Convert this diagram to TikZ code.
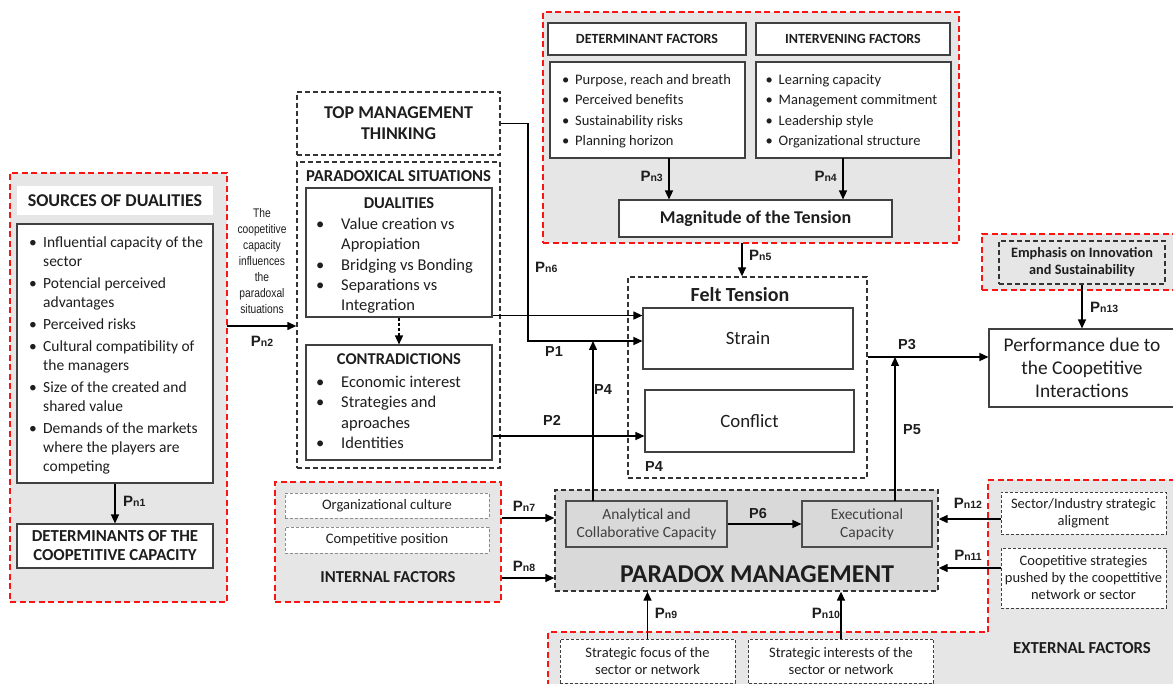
\documentclass[tikz,border=0pt]{standalone}
\usepackage{fontspec}
\setmainfont{Carlito}
\newfontfamily\arialfont{Liberation Sans}
\newfontfamily\narrowfont[FakeStretch=0.82]{Liberation Sans}
\usetikzlibrary{arrows.meta, positioning}

\definecolor{redline}{RGB}{250,20,20}
\definecolor{panelgray}{RGB}{230,230,230}
\definecolor{pmgray}{RGB}{217,217,217}
\definecolor{txt}{RGB}{30,30,30}

\newcommand{\fs}[2]{\fontsize{#1}{#2}\selectfont}
\newcommand{\pn}[1]{{\arialfont\bfseries\fs{15}{15}P\fs{10.5}{15}n#1}}
\newcommand{\pl}[1]{{\arialfont\bfseries\fs{14.5}{15}P#1}}
\newcommand{\blist}[2]{\begin{tabular}{@{}p{#1}@{}l@{}}#2\end{tabular}}

\begin{document}
\begin{tikzpicture}[x=1pt, y=-1pt,
	every node/.style={text=txt},
	sized/.style 2 args={minimum width=#1pt, minimum height=#2pt, inner sep=0pt},
	redpanel/.style={draw=redline, fill=panelgray, line width=1.8pt, dash pattern=on 6pt off 3.5pt},
	solidbox/.style={draw=black!75, fill=white, line width=1.1pt},
	dashbox/.style={draw=black!80, line width=1.3pt, dash pattern=on 5pt off 3pt},
	thinbox/.style={draw=black!45, fill=white, line width=0.9pt, dash pattern=on 3pt off 2pt},
	extbox/.style={draw=black!75, fill=white, line width=1pt, dash pattern=on 3pt off 2pt},
	graybox/.style={draw=black!70, fill=pmgray, line width=1.1pt},
	arr/.style={-{Triangle[length=9pt, width=8pt]}, line width=1.3pt, black},
	lbl/.style={inner sep=0pt}
	]
	\clip (0,0) rectangle (1173,684);

	% sources
	\node[redpanel, sized={217}{429}] (srcpanel) at (118.5,387.5) {};
	\node[fill=white, sized={196}{29}, font=\bfseries\fs{18}{18}] (srchead) at (115,200.5) {SOURCES OF DUALITIES};
	\node[solidbox, sized={196}{259}] (srcbox) at (115,353.5) {};
	\node[lbl, anchor=north west, font=\fs{15.5}{19}] (srcitems) at (29,234) {\blist{14pt}{
		\textbullet & Influential capacity of the\\ & sector\\[3pt]
		\textbullet & Potencial perceived\\ & advantages\\[3pt]
		\textbullet & Perceived risks\\[3pt]
		\textbullet & Cultural compatibility of\\ & the managers\\[3pt]
		\textbullet & Size of the created and\\ & shared value\\[3pt]
		\textbullet & Demands of the markets\\ & where the players are\\ & competing}};
	\node[solidbox, sized={196}{44}, align=center, font=\bfseries\fs{16.8}{19}] (detcap) at (115,546) {DETERMINANTS OF THE\\COOPETITIVE CAPACITY};

	% paradoxical situations
	\node[dashbox, sized={203}{63}, align=center, font=\bfseries\fs{18}{21}] (tmt) at (398.5,123.5) {TOP MANAGEMENT\\THINKING};
	\node[dashbox, sized={203}{306}] (parad) at (398.5,315) {};
	\node[lbl, font=\bfseries\fs{16.7}{16}] (paradhead) at (398.5,176) {PARADOXICAL SITUATIONS};
	\node[solidbox, sized={186}{129}] (dual) at (399,252.5) {};
	\node[lbl, font=\bfseries\fs{16.5}{16}] (dualhead) at (399,203) {DUALITIES};
	\node[lbl, anchor=north west, font=\fs{16.5}{20.3}] (dualitems) at (316,215) {\blist{25pt}{
		\textbullet & Value creation vs\\ & Apropiation\\
		\textbullet & Bridging vs Bonding\\
		\textbullet & Separations vs\\ & Integration}};
	\node[solidbox, sized={186}{115}] (contra) at (399,402.5) {};
	\node[lbl, font=\bfseries\fs{16.5}{16}] (contrahead) at (399,359) {CONTRADICTIONS};
	\node[lbl, anchor=north west, font=\fs{16.5}{20.3}] (contraitems) at (316,373) {\blist{25pt}{
		\textbullet & Economic interest\\
		\textbullet & Strategies and\\ & aproaches\\
		\textbullet & Identities}};

	% tension factors
	\node[redpanel, sized={416}{231}] (tenspanel) at (751,127.5) {};
	\node[solidbox, sized={198}{32}, font=\bfseries\fs{14}{14}] (dethead) at (647,39) {DETERMINANT FACTORS};
	\node[solidbox, sized={194}{32}, font=\bfseries\fs{14}{14}] (inthead) at (853,39) {INTERVENING FACTORS};
	\node[solidbox, sized={195}{96}] (detbox) at (647.5,110) {};
	\node[solidbox, sized={195}{96}] (intbox) at (853.5,110) {};
	\node[lbl, anchor=north west, font=\fs{14.5}{20.3}] (detitems) at (562,70) {\blist{13pt}{
		\textbullet & Purpose, reach and breath\\
		\textbullet & Perceived benefits\\
		\textbullet & Sustainability risks\\
		\textbullet & Planning horizon}};
	\node[lbl, anchor=north west, font=\fs{14.5}{20.3}] (intitems) at (765.5,70) {\blist{13pt}{
		\textbullet & Learning capacity\\
		\textbullet & Management commitment\\
		\textbullet & Leadership style\\
		\textbullet & Organizational structure}};
	\node[solidbox, sized={273}{37}, font=\bfseries\fs{18}{18}] (magn) at (755.5,218.5) {Magnitude of the Tension};

	% felt tension
	\node[dashbox, sized={239}{201}] (felt) at (747.5,377.5) {};
	\node[lbl, font=\bfseries\fs{20}{20}] (felthead) at (740,295) {Felt Tension};
	\node[solidbox, sized={210}{61}, font=\fs{18.8}{18.8}] (strain) at (748,338.5) {Strain};
	\node[solidbox, sized={209}{62}, font=\fs{18.8}{18.8}] (conflict) at (749.5,421) {Conflict};

	% performance
	\node[redpanel, sized={203}{56}] (emphpanel) at (1083.5,262) {};
	\node[dashbox, sized={166}{43}, align=center, font=\bfseries\fs{14.3}{17}] (emph) at (1082,262.5) {Emphasis on Innovation\\and Sustainability};
	\node[solidbox, sized={186}{78}, align=center, font=\fs{19.4}{23}] (perf) at (1082,368) {Performance due to\\the Coopetitive\\Interactions};

	% paradox management
	\node[dashbox, fill=pmgray, sized={383}{101}] (pm) at (746.5,540.5) {};
	\node[graybox, sized={161}{46}, align=center, font=\fs{15.5}{18}, text=black!75] (anal) at (646.5,524) {Analytical and\\Collaborative Capacity};
	\node[graybox, sized={130}{46}, align=center, font=\fs{15.5}{18}, text=black!75] (exec) at (867,524) {Executional\\Capacity};
	\node[lbl, font=\bfseries\fs{25.7}{25}] (pmhead) at (757,574) {PARADOX MANAGEMENT};

	% internal factors
	\node[redpanel, sized={226}{120}] (intpanel) at (388,542) {};
	\node[thinbox, sized={204}{25}, font=\fs{14.5}{14.5}] (orgc) at (387,505.5) {Organizational culture};
	\node[thinbox, sized={204}{26}, font=\fs{14.5}{14.5}] (compp) at (387,540) {Competitive position};
	\node[lbl, font=\bfseries\fs{16.7}{16}] (intfhead) at (388,577) {INTERNAL FACTORS};

	% external factors
	\draw[redpanel] (548,686) -- (548,632) -- (988,632) -- (988,480) -- (1176,480) -- (1176,686) -- cycle;
	\node[extbox, sized={175}{44}, align=center, font=\fs{14.5}{17}] (focus) at (647.5,661) {Strategic focus of the\\sector or network};
	\node[extbox, sized={185}{44}, align=center, font=\fs{14.5}{17}] (interest) at (841,661) {Strategic interests of the\\sector or network};
	\node[extbox, sized={165}{42}, align=center, font=\fs{14.5}{17}] (alignbox) at (1083.5,513) {Sector/Industry strategic\\aligment};
	\node[extbox, sized={165}{60}, align=center, font=\fs{14.5}{17}] (pushed) at (1083.5,578) {Coopetitive strategies\\pushed by the coopettitive\\network or sector};
	\node[lbl, font=\bfseries\fs{16.8}{16}] (exthead) at (1082,648) {EXTERNAL FACTORS};

	% connectors
	\coordinate (pn2start) at (227,326);
	\coordinate (dualout) at ([yshift=2pt]dual.south east);
	\coordinate (contraout) at ([yshift=-33.5pt]contra.east);
	\coordinate (p1turn) at (528,341);
	\coordinate (p4foot) at (593,501);
	\coordinate (p5foot) at (895,501);
	\coordinate (p3start) at ([yshift=20.5pt]felt.east);
	\coordinate (pn3top) at (669,158);
	\coordinate (pn4top) at (843,158);
	\coordinate (pn5top) at (742,243);
	\coordinate (pn7start) at ([yshift=24pt]intpanel.east);
	\coordinate (pn8start) at ([yshift=-36pt]intpanel.east);
	\coordinate (pn12start) at ([yshift=-6pt]alignbox.west);
	\coordinate (pn11start) at ([yshift=10pt]pushed.west);

	\draw[arr] (srcbox.south) -- (detcap.north);
	\draw[arr] (pn2start) -- (pn2start -| parad.west);
	\draw[arr, dash pattern=on 3pt off 2pt] (dual.south) -- (contra.north);
	\draw[arr] (dualout) -- (dualout -| strain.west);
	\draw[arr] (tmt.east) -| (p1turn) -- (p1turn -| strain.west);
	\draw[arr] (contraout) -- (contraout -| conflict.west);
	\draw[arr] (p4foot) -- (p4foot |- p1turn);
	\draw[arr] (pn3top) -- (pn3top |- magn.north);
	\draw[arr] (pn4top) -- (pn4top |- magn.north);
	\draw[arr] (pn5top) -- (pn5top |- felt.north);
	\draw[arr] (p3start) -- (p3start -| perf.west);
	\draw[arr] (p5foot) -- (p5foot |- p3start);
	\draw[arr] (emph.south) -- (perf.north);
	\draw[arr] (anal.east) -- (exec.west);
	\draw[arr] (pn7start) -- (pn7start -| pm.west);
	\draw[arr] (pn8start) -- (pn8start -| pm.west);
	\draw[arr] (focus.north) -- (focus.north |- pm.south);
	\draw[arr] (interest.north) -- (interest.north |- pm.south);
	\draw[arr] (pn12start) -- (pn12start -| pm.east);
	\draw[arr] (pn11start) -- (pn11start -| pm.east);

	% labels
	\node[lbl, align=center, font=\narrowfont\fs{12.5}{16}] (pn2note) at (262,261) {The\\coopetitive\\capacity\\influences\\the\\paradoxal\\situations};
	\node[lbl, anchor=west] (pn1lbl) at (123,501) {\pn{1}};
	\node[lbl] (pn2lbl) at (262,341) {\pn{2}};
	\node[lbl, anchor=east] (pn3lbl) at (663,176) {\pn{3}};
	\node[lbl, anchor=east] (pn4lbl) at (837,176) {\pn{4}};
	\node[lbl, anchor=west] (pn5lbl) at (749,255) {\pn{5}};
	\node[lbl, anchor=west] (pn6lbl) at (535,267) {\pn{6}};
	\node[lbl] (pn7lbl) at (524,506) {\pn{7}};
	\node[lbl] (pn8lbl) at (524,566) {\pn{8}};
	\node[lbl] (pn9lbl) at (666,613) {\pn{9}};
	\node[lbl] (pn10lbl) at (826,613) {\pn{10}};
	\node[lbl] (pn11lbl) at (968,555) {\pn{11}};
	\node[lbl] (pn12lbl) at (968,503) {\pn{12}};
	\node[lbl, anchor=west] (pn13lbl) at (1090,307) {\pn{13}};
	\node[lbl] (p1lbl) at (554,352) {\pl{1}};
	\node[lbl] (p2lbl) at (552,420) {\pl{2}};
	\node[lbl] (p3lbl) at (907,345) {\pl{3}};
	\node[lbl] (p4lbl) at (603,390) {\pl{4}};
	\node[lbl] (p4inlbl) at (654,467) {\pl{4}};
	\node[lbl] (p5lbl) at (912,430) {\pl{5}};
	\node[lbl] (p6lbl) at (758,514) {\pl{6}};
\end{tikzpicture}
\end{document}
